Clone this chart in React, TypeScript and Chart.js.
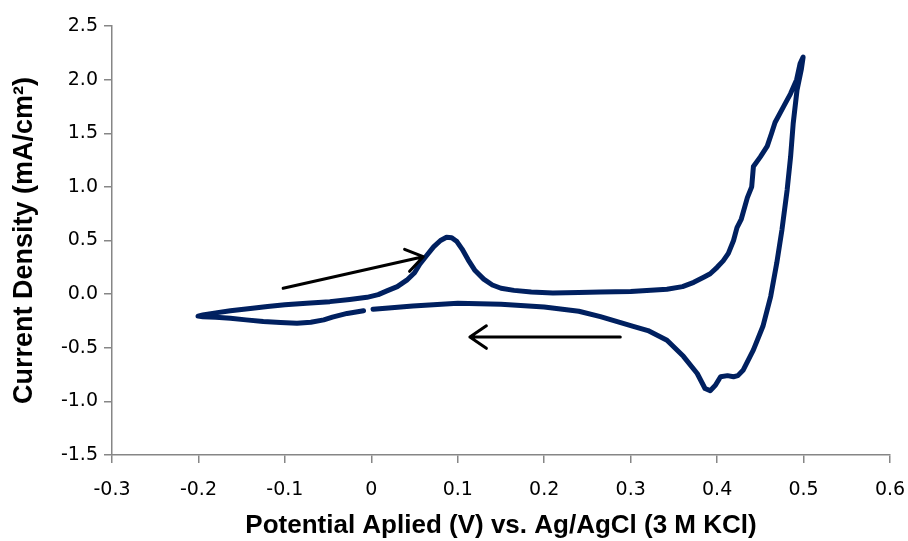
import React, { useEffect, useRef } from "react";
import { Chart, registerables } from "chart.js";

Chart.register(...registerables);

// Cyclic voltammogram: potential (V vs Ag/AgCl) and current density (mA/cm²), in scan order
const potentials: number[] = [
  -0.009, -0.028, -0.045, -0.055, -0.07, -0.086, -0.105, -0.125, -0.145, -0.163, -0.18, -0.195, -0.2005,
  -0.195, -0.18, -0.163, -0.14, -0.12, -0.1, -0.075, -0.048, -0.025, -0.005, 0.008, 0.018, 0.03, 0.041,
  0.05, 0.056, 0.064, 0.072, 0.08, 0.087, 0.093, 0.099, 0.105, 0.112, 0.12, 0.13, 0.14, 0.15, 0.165,
  0.185, 0.21, 0.24, 0.265, 0.3, 0.342, 0.36, 0.373, 0.385, 0.392, 0.4, 0.407, 0.413, 0.419, 0.423,
  0.428, 0.435, 0.44, 0.442, 0.45, 0.458, 0.463, 0.467, 0.477, 0.485, 0.492, 0.496, 0.4995,
  0.4975, 0.4924, 0.488, 0.485, 0.481, 0.475, 0.469, 0.462, 0.453, 0.442, 0.43, 0.424, 0.419, 0.412,
  0.404, 0.398, 0.392, 0.386, 0.377, 0.361, 0.342, 0.32, 0.303, 0.265, 0.24, 0.2, 0.15, 0.1, 0.048,
  0.02, 0.002,
];
const currents: number[] = [
  -0.155, -0.18, -0.215, -0.24, -0.262, -0.272, -0.265, -0.255, -0.24, -0.225, -0.215, -0.21, -0.205,
  -0.195, -0.175, -0.155, -0.135, -0.115, -0.1, -0.085, -0.07, -0.05, -0.03, -0.005, 0.03, 0.07, 0.13,
  0.2, 0.28, 0.36, 0.44, 0.5, 0.53, 0.525, 0.49, 0.42, 0.32, 0.22, 0.14, 0.085, 0.055, 0.035,
  0.02, 0.01, 0.015, 0.02, 0.025, 0.045, 0.07, 0.11, 0.16, 0.19, 0.25, 0.31, 0.38, 0.5, 0.62,
  0.7, 0.9, 1.0, 1.19, 1.28, 1.38, 1.5, 1.6, 1.75, 1.87, 2.0, 2.15, 2.21,
  2.1, 1.9, 1.59, 1.28, 0.97, 0.6, 0.29, -0.02, -0.3, -0.52, -0.71, -0.76, -0.77, -0.76,
  -0.77, -0.85, -0.9, -0.88, -0.74, -0.58, -0.43, -0.34, -0.3, -0.21, -0.16, -0.12, -0.095, -0.085, -0.11,
  -0.13, -0.142,
];

// Scan-direction arrows (data coordinates)
const arrowFromX: number[] = [-0.102, 0.288];
const arrowFromY: number[] = [0.054, -0.4];
const arrowToX: number[] = [0.06, 0.114];
const arrowToY: number[] = [0.349, -0.4];

const xTitle = "Potential Aplied (V) vs. Ag/AgCl (3 M KCl)";
const yTitle = "Current Density (mA/cm\u00B2)";

const arrowPlugin = {
  id: "scanArrows",
  afterDatasetsDraw(chart: any) {
    const { ctx, scales } = chart;
    const xs = scales.x;
    const ys = scales.y;
    ctx.save();
    ctx.strokeStyle = "#000000";
    ctx.lineWidth = 3;
    ctx.lineCap = "round";
    ctx.lineJoin = "round";
    for (let i = 0; i < arrowFromX.length; i++) {
      const x1 = xs.getPixelForValue(arrowFromX[i]);
      const y1 = ys.getPixelForValue(arrowFromY[i]);
      const x2 = xs.getPixelForValue(arrowToX[i]);
      const y2 = ys.getPixelForValue(arrowToY[i]);
      const ang = Math.atan2(y2 - y1, x2 - x1);
      const len = 20;
      const spread = 0.6;
      ctx.beginPath();
      ctx.moveTo(x1, y1);
      ctx.lineTo(x2, y2);
      ctx.moveTo(x2 - len * Math.cos(ang - spread), y2 - len * Math.sin(ang - spread));
      ctx.lineTo(x2, y2);
      ctx.lineTo(x2 - len * Math.cos(ang + spread), y2 - len * Math.sin(ang + spread));
      ctx.stroke();
    }
    ctx.restore();
  },
};

export default function App() {
  const ref = useRef<HTMLCanvasElement | null>(null);
  useEffect(() => {
    if (!ref.current) return;
    const points = potentials.map((p, i) => ({ x: p, y: currents[i] }));
    const axisColor = "#868686";
    const tickFont = { family: "'DejaVu Sans', sans-serif", size: 19 };
    const xTitleFont = { family: "'Liberation Sans', Arial, sans-serif", size: 26, weight: "bold" as const };
    const yTitleFont = { family: "'Liberation Sans', Arial, sans-serif", size: 27, weight: "bold" as const };
    const chart = new Chart(ref.current, {
      type: "scatter",
      data: {
        datasets: [
          {
            data: points,
            showLine: true,
            borderColor: "#002060",
            backgroundColor: "#002060",
            borderWidth: 5,
            pointRadius: 0,
            tension: 0,
            borderJoinStyle: "round",
            borderCapStyle: "round",
          } as any,
        ],
      },
      options: {
        animation: false,
        responsive: false,
        maintainAspectRatio: false,
        layout: { padding: { top: 26, right: 18, left: 0, bottom: 0 } },
        plugins: { legend: { display: false }, tooltip: { enabled: false } },
        scales: {
          x: {
            type: "linear",
            min: -0.3,
            max: 0.6,
            ticks: {
              stepSize: 0.1,
              color: "#000000",
              font: tickFont,
              padding: 16,
              callback: (v: any) => {
                const n = Math.round(Number(v) * 10) / 10;
                return n === 0 ? "0" : n.toFixed(1);
              },
            },
            grid: { drawOnChartArea: false, drawTicks: true, tickLength: 8, color: axisColor, lineWidth: 1.5 },
            border: { color: axisColor, width: 1.5 },
            title: { display: true, text: xTitle, color: "#000000", font: xTitleFont, padding: { top: 0, bottom: 0 } },
            afterFit: (s: any) => {
              s.height = 86;
              s.paddingLeft = 0;
              s.paddingRight = 0;
            },
          },
          y: {
            type: "linear",
            min: -1.5,
            max: 2.5,
            ticks: {
              stepSize: 0.5,
              color: "#000000",
              font: tickFont,
              padding: 6,
              callback: (v: any) => Number(v).toFixed(1),
            },
            grid: { drawOnChartArea: false, drawTicks: true, tickLength: 8, color: axisColor, lineWidth: 1.5 },
            border: { color: axisColor, width: 1.5 },
            title: { display: true, text: yTitle, color: "#000000", font: yTitleFont, padding: { top: 8, bottom: 0 } },
            afterFit: (s: any) => {
              s.width = 112;
              s.paddingTop = 0;
              s.paddingBottom = 0;
            },
          },
        },
      },
      plugins: [arrowPlugin],
    });
    return () => chart.destroy();
  }, []);
  return (
    <div style={{ position: "absolute", left: 0, top: 0, width: 908, height: 541, background: "#ffffff" }}>
      <canvas ref={ref} width={908} height={541} style={{ width: 908, height: 541, display: "block" }} />
    </div>
  );
}
